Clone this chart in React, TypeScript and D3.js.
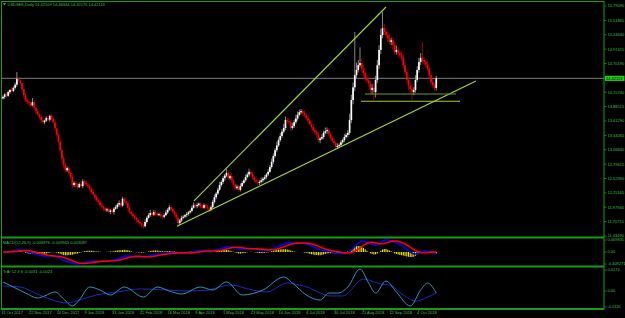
import React from "react";
import * as d3 from "d3";

const W = 625;
const H = 318;

// ---------- DATA ----------
const firstOpen = 14.04;
const closes = [
  14.07,14.12,14.09,14.16,14.20,14.18,14.24,14.30,14.41,14.38,
  14.33,14.22,14.10,14.01,13.97,13.95,13.91,13.97,13.86,13.80,
  13.74,13.69,13.63,13.59,13.62,13.67,13.64,13.71,13.66,13.59,
  13.47,13.35,13.22,13.06,12.90,12.78,12.68,12.72,12.63,12.55,
  12.40,12.44,12.39,12.36,12.42,12.38,12.47,12.44,12.41,12.38,
  12.33,12.27,12.22,12.17,12.12,12.08,12.02,11.99,11.96,11.92,
  11.94,11.89,11.92,11.89,11.95,11.98,12.03,12.06,12.01,12.14,
  12.09,12.06,11.97,11.89,11.85,11.81,11.78,11.74,11.70,11.67,
  11.64,11.62,11.70,11.78,11.83,11.87,11.84,11.89,11.86,11.83,
  11.85,11.81,11.80,11.83,11.88,11.93,11.98,11.95,11.89,11.84,
  11.78,11.68,11.73,11.78,11.80,11.83,11.85,11.88,11.91,11.97,
  12.02,12.00,12.02,12.05,12.00,11.97,12.02,11.99,11.96,11.93,
  11.98,12.08,12.17,12.24,12.31,12.40,12.46,12.53,12.58,12.63,
  12.53,12.57,12.49,12.41,12.34,12.37,12.31,12.38,12.44,12.49,
  12.55,12.60,12.65,12.61,12.55,12.49,12.46,12.44,12.46,12.49,
  12.52,12.55,12.60,12.65,12.74,12.84,12.95,13.06,13.15,13.25,
  13.33,13.41,13.48,13.63,13.61,13.59,13.48,13.52,13.59,13.66,
  13.73,13.78,13.80,13.76,13.72,13.67,13.62,13.56,13.50,13.44,
  13.40,13.35,13.25,13.28,13.31,13.39,13.42,13.44,13.36,13.29,
  13.24,13.20,13.12,13.14,13.16,13.21,13.25,13.31,13.35,13.39,
  13.63,14.01,14.25,14.48,14.58,14.67,14.71,14.61,14.52,14.43,
  14.38,14.33,14.20,14.24,14.16,14.39,14.67,14.96,15.24,15.37,
  15.30,15.24,15.18,15.11,15.14,15.05,14.92,14.96,14.90,14.86,
  14.82,14.67,14.54,14.39,14.28,14.22,14.16,14.20,14.39,14.58,
  14.73,14.81,14.77,14.73,14.68,14.61,14.48,14.35,14.29,14.24,
  14.42,
];
// wick lengths in hundredths
const upperWick = [
  3,2,4,3,2,5,3,4,13,3, 2,3,2,4,3,2,3,8,3,2, 4,2,3,5,2,3,4,2,3,4,
  5,3,4,6,3,5,4,3,4,2, 6,3,4,5,3,6,4,3,5,3, 4,3,5,2,4,3,3,4,2,3,
  3,4,2,5,3,4,3,5,3,4, 3,6,3,4,2,3,4,2,3,4, 2,3,5,3,4,6,3,4,3,2,
  3,4,2,3,5,3,4,3,2,3, 4,2,3,4,3,2,4,3,3,4, 5,3,4,2,3,4,3,2,3,4,
  3,4,5,3,4,6,3,4,3,7, 4,3,5,3,2,4,3,5,4,3, 5,4,6,3,4,2,3,4,3,5,
  3,4,3,5,4,6,5,4,7,5, 6,5,8,7,4,5,3,6,5,7, 6,5,4,3,5,4,6,3,4,5,
  3,4,6,3,5,4,7,5,3,4, 3,4,2,5,3,4,3,6,4,5, 12,10,9,82,14,10,30,9,7,6,
  8,6,5,7,9,8,10,9,12,31, 8,7,6,9,5,7,6,8,5,6, 7,5,6,4,5,6,8,5,9,7,
  8,9,30,6,5,7,4,5,6,4, 5,
];
const lowerWick = [
  2,4,3,2,4,3,2,3,4,2, 3,4,5,3,4,6,3,2,4,5, 3,4,5,3,4,2,3,4,3,2,
  4,5,3,4,8,6,4,3,5,4, 5,4,3,4,2,3,4,3,2,4, 3,4,3,5,4,3,4,3,5,4,
  3,2,4,3,5,2,3,4,3,2, 3,4,5,3,4,3,4,5,3,4, 4,5,2,3,2,3,4,3,4,3,
  2,3,4,3,2,3,2,4,3,4, 3,6,4,3,2,3,4,3,2,3, 2,3,4,3,4,3,2,4,3,4,
  3,2,3,4,3,2,3,4,5,3, 4,3,4,5,4,3,4,3,2,3, 3,2,4,3,5,4,3,5,4,3,
  4,3,4,3,2,3,4,3,4,3, 3,4,3,4,5,4,6,3,4,3, 4,3,4,5,3,4,5,3,4,5,
  4,5,4,6,3,4,3,5,4,5, 4,3,5,4,3,4,3,4,3,5, 4,6,8,7,6,5,4,8,7,6,
  5,7,6,8,15,10,6,7,8,6, 6,5,7,5,6,8,6,5,7,6, 7,6,5,6,8,7,15,6,5,4,
  5,6,7,5,6,5,7,6,5,6, 5,
];

const dateLabels = [
  "31 Oct 2017", "22 Nov 2017", "14 Dec 2017", "9 Jan 2018", "31 Jan 2018",
  "22 Feb 2018", "16 Mar 2018", "9 Apr 2018", "1 May 2018", "23 May 2018",
  "14 Jun 2018", "6 Jul 2018", "30 Jul 2018", "21 Aug 2018", "12 Sep 2018",
  "4 Oct 2018",
];
const dateLabelEvery = 16;

const priceTickLabels = [
  "15.79090", "15.51865", "15.24640", "14.97415", "14.70190", "14.42965",
  "14.15740", "13.88515", "13.61290", "13.34065", "13.06840", "12.79615",
  "12.52390", "12.25165", "11.97940", "11.70715", "11.43490",
];
const priceTickValues = [
  15.7909, 15.51865, 15.2464, 14.97415, 14.7019, 14.42965, 14.1574, 13.88515,
  13.6129, 13.34065, 13.0684, 12.79615, 12.5239, 12.25165, 11.9794, 11.70715, 11.4349,
];
const currentPrice = 14.42113;
const currentPriceLabel = "14.42113";

const headerText = "USDSEK,Daily  14.42109 14.46344 14.32175 14.42113";
const macdTitle = "MACD(12,26,9) -0.006876 -0.009963 0.003087";
const oscTitle = "TrAr 12 3 6 -0.0031 -0.0023";

const macdTickLabels = ["0.469835", "0.00", "-0.409271"];
const oscTickValues = [0.0174, 0, -0.0131];
const oscTickLabels = ["0.0174", "0.00", "-0.0131"];

// lower oscillator, read at sample bars
const tealIdx = [0,6,13,20,24,30,35,40,44,50,56,62,70,81,89,96,103,114,121,129,138,150,162,167,175,183,188,193,199,206,211,215,221,227,235,241,245,250];
const tealVal = [0.0075,0.0033,-0.0017,-0.0058,-0.0041,-0.0008,-0.0066,-0.0124,-0.0075,0.0033,0.0008,-0.0033,0.0033,-0.0050,0.0033,0.0,-0.0025,0.0033,0.0008,0.0075,-0.0033,0.0008,0.0116,0.0066,-0.0033,-0.0075,-0.0017,-0.0017,0.0033,0.0182,0.0066,-0.0017,0.0083,-0.0008,-0.0124,0.0008,0.0066,-0.0017];
const sigIdx = [0,10,21,37,44,54,66,79,95,106,118,131,144,152,164,171,177,183,189,196,208,218,223,231,238,245,250];
const sigVal = [0.0041,0.0033,-0.0033,-0.0099,-0.0075,-0.0033,-0.0008,0.0017,0.0008,0.0,0.0008,0.0050,0.0008,-0.0008,0.0066,0.0050,0.0025,-0.0017,-0.0041,-0.0041,0.0099,0.0058,0.0050,-0.0033,-0.0083,-0.0050,-0.0017];

// trendlines as (bar index, price) pairs
const upperTrendIdx = [110.2, 221.0];
const upperTrendPrice = [12.098, 15.772];
const lowerTrendIdx = [100.4, 272.9];
const lowerTrendPrice = [11.6205, 14.3705];
const hLine1Idx = [208.9, 261.4];
const hLine1Price = [14.124, 14.124];
const hLine2Idx = [206.6, 263.7];
const hLine2Price = [13.986, 13.986];

// ---------- LAYOUT ----------
const BAR0 = 3;
const BAR_STEP = 1.733;
const AXIS_X = 604;
const MAIN_TOP = 6, MAIN_BOTTOM = 236;
const MACD_TOP = 240, MACD_BOTTOM = 264;
const FONT = "'Liberation Sans', Arial, sans-serif";
const FS = 4;
const GREEN = "#169c16";
const TXT = "#3cc03c";

function ema(vals: number[], period: number) {
  const k = 2 / (period + 1);
  const out: number[] = [];
  let prev = vals[0];
  vals.forEach((v, i) => {
    prev = i === 0 ? v : v * k + prev * (1 - k);
    out.push(prev);
  });
  return out;
}

export default function App() {
  const N = closes.length;
  const x = d3.scaleLinear().domain([0, N - 1]).range([BAR0, BAR0 + (N - 1) * BAR_STEP]);
  const y = d3
    .scaleLinear()
    .domain([priceTickValues[priceTickValues.length - 1], priceTickValues[0]])
    .range([MAIN_BOTTOM, MAIN_TOP]);
  const yOsc = d3.scaleLinear().domain([0, 0.0174]).range([291, 270]);

  const candles = closes.map((c, i) => {
    const o = i === 0 ? firstOpen : closes[i - 1];
    const hi = Math.max(o, c) + upperWick[i] / 100;
    const lo = Math.min(o, c) - lowerWick[i] / 100;
    return { i, o, c, hi, lo, bull: c >= o };
  });

  // MACD(12,26,9) derived from the closes
  const e12 = ema(closes, 12);
  const e26 = ema(closes, 26);
  const macd = closes.map((_, i) => e12[i] - e26[i]);
  const signal = macd.map((_, i) => d3.mean(macd.slice(Math.max(0, i - 8), i + 1)) as number);
  const hist = macd.map((m, i) => m - signal[i]);
  // subwindow autoscaled to its own min/max, as the terminal does
  const mMin = d3.min([...macd, ...signal, ...hist]) as number;
  const mMax = d3.max([...macd, ...signal, ...hist]) as number;
  const yMacd = d3.scaleLinear().domain([mMin, mMax]).range([MACD_BOTTOM, MACD_TOP]);
  const macdTickYs = [MACD_TOP, yMacd(0), MACD_BOTTOM];

  const macdLine = d3
    .line<number>()
    .x((_, i) => x(i))
    .y((d) => yMacd(d));

  const oscLine = d3
    .line<[number, number]>()
    .x((d) => x(d[0]))
    .y((d) => yOsc(d[1]))
    .curve(d3.curveMonotoneX);

  const tealPts = tealIdx.map((t, k) => [t, tealVal[k]] as [number, number]);
  const sigPts = sigIdx.map((t, k) => [t, sigVal[k]] as [number, number]);

  const trend = (idx: number[], pr: number[], color: string, w = 1.1) => (
    <line
      x1={x(idx[0])}
      y1={y(pr[0])}
      x2={x(idx[1])}
      y2={y(pr[1])}
      stroke={color}
      strokeWidth={w}
    />
  );

  const curY = y(currentPrice);

  return (
    <svg
      width={W}
      height={H}
      style={{ position: "fixed", left: 0, top: 0, background: "#000" }}
      fontFamily={FONT}
    >
      <defs>
        <clipPath id="mainClip">
          <rect x={2} y={2} width={AXIS_X - 2} height={235} />
        </clipPath>
        <clipPath id="macdClip">
          <rect x={2} y={238.6} width={AXIS_X - 2} height={26.9} />
        </clipPath>
        <clipPath id="oscClip">
          <rect x={2} y={267.5} width={AXIS_X - 2} height={40.5} />
        </clipPath>
      </defs>
      <rect x={0} y={0} width={W} height={H} fill="#000" />

      {/* header */}
      <path d="M3,3.2 L6,3.2 L4.5,5.4 Z" fill={TXT} />
      <text x={7.5} y={5.9} fontSize={FS} fill={TXT}>
        {headerText}
      </text>

      {/* current price line */}
      <line x1={2} x2={AXIS_X} y1={curY} y2={curY} stroke="#8a8a8a" strokeWidth={0.9} />

      {/* candles */}
      <g clipPath="url(#mainClip)">
        {candles.map((d) => {
          const cx = x(d.i);
          const top = y(Math.max(d.o, d.c));
          const bot = y(Math.min(d.o, d.c));
          return (
            <g key={d.i}>
              <line
                x1={cx}
                x2={cx}
                y1={y(d.hi)}
                y2={y(d.lo)}
                stroke={d.bull ? "#a8a8a8" : "#c00000"}
                strokeWidth={0.8}
              />
              <rect
                x={cx - 0.85}
                y={top}
                width={1.7}
                height={Math.max(0.8, bot - top)}
                fill={d.bull ? "#ffffff" : "#ff0000"}
              />
            </g>
          );
        })}
        {trend(upperTrendIdx, upperTrendPrice, "#a6d82a")}
        {trend(lowerTrendIdx, lowerTrendPrice, "#a6d82a")}
        {trend(hLine1Idx, hLine1Price, "#6f9e1c")}
        {trend(hLine2Idx, hLine2Price, "#9acd32")}
      </g>

      {/* MACD panel */}
      <g clipPath="url(#macdClip)">
        {hist.map((h, i) => (
          <line
            key={i}
            x1={x(i)}
            x2={x(i)}
            y1={yMacd(0)}
            y2={yMacd(h)}
            stroke="#e8e800"
            strokeWidth={1.1}
          />
        ))}
        <path d={macdLine(macd) || ""} fill="none" stroke="#0000ff" strokeWidth={1.6} />
        <path d={macdLine(signal) || ""} fill="none" stroke="#ff0000" strokeWidth={1.6} />
      </g>
      <text x={3} y={243.5} fontSize={FS} fill={TXT}>
        {macdTitle}
      </text>

      {/* oscillator panel */}
      <g clipPath="url(#oscClip)">
        <path d={oscLine(sigPts) || ""} fill="none" stroke="#1f2fd0" strokeWidth={0.9} />
        <path d={oscLine(tealPts) || ""} fill="none" stroke="#2a9ab4" strokeWidth={1} />
      </g>
      <text x={3} y={273} fontSize={FS} fill={TXT}>
        {oscTitle}
      </text>

      {/* frame */}
      <line x1={1.5} x2={1.5} y1={1} y2={310} stroke={GREEN} strokeWidth={1} />
      <line x1={1} x2={AXIS_X} y1={1.5} y2={1.5} stroke={GREEN} strokeWidth={1} />
      <line x1={AXIS_X} x2={AXIS_X} y1={1} y2={310} stroke={GREEN} strokeWidth={1} />
      <line x1={1} x2={AXIS_X} y1={237.6} y2={237.6} stroke={GREEN} strokeWidth={2} />
      <line x1={1} x2={AXIS_X} y1={266.5} y2={266.5} stroke={GREEN} strokeWidth={2} />
      <line x1={1} x2={AXIS_X} y1={309} y2={309} stroke={GREEN} strokeWidth={2} />

      {/* price axis (labels under the current-price box are hidden, as in the terminal) */}
      {priceTickLabels.map((lbl, k) => {
        const ty = y(priceTickValues[k]);
        const hidden = Math.abs(ty - curY) < 5;
        return (
          <g key={lbl}>
            <line x1={AXIS_X} x2={AXIS_X + 2.5} y1={ty} y2={ty} stroke={GREEN} strokeWidth={0.8} />
            {!hidden && (
              <text x={607.5} y={ty + 1.4} fontSize={FS} fill={TXT}>
                {lbl}
              </text>
            )}
          </g>
        );
      })}
      <rect x={605} y={curY - 2.6} width={19.5} height={5.2} fill="#22cc22" />
      <text x={606} y={curY + 1.4} fontSize={FS} fill="#000">
        {currentPriceLabel}
      </text>

      {/* macd axis */}
      {macdTickLabels.map((lbl, k) => (
        <g key={k}>
          <line x1={AXIS_X} x2={AXIS_X + 2.5} y1={macdTickYs[k]} y2={macdTickYs[k]} stroke={GREEN} strokeWidth={0.8} />
          <text x={607.5} y={macdTickYs[k] + 1.4} fontSize={FS} fill={TXT}>
            {lbl}
          </text>
        </g>
      ))}
      {/* osc axis */}
      {oscTickValues.map((v, k) => (
        <g key={k}>
          <line x1={AXIS_X} x2={AXIS_X + 2.5} y1={yOsc(v)} y2={yOsc(v)} stroke={GREEN} strokeWidth={0.8} />
          <text x={607.5} y={yOsc(v) + 1.4} fontSize={FS} fill={TXT}>
            {oscTickLabels[k]}
          </text>
        </g>
      ))}

      {/* time axis */}
      {dateLabels.map((lbl, k) => {
        const tx = x(k * dateLabelEvery);
        return (
          <g key={lbl}>
            <line x1={tx} x2={tx} y1={309} y2={311} stroke={GREEN} strokeWidth={0.8} />
            <text x={tx - 1.8} y={314.2} fontSize={FS} fill={TXT}>
              {lbl}
            </text>
          </g>
        );
      })}
    </svg>
  );
}
